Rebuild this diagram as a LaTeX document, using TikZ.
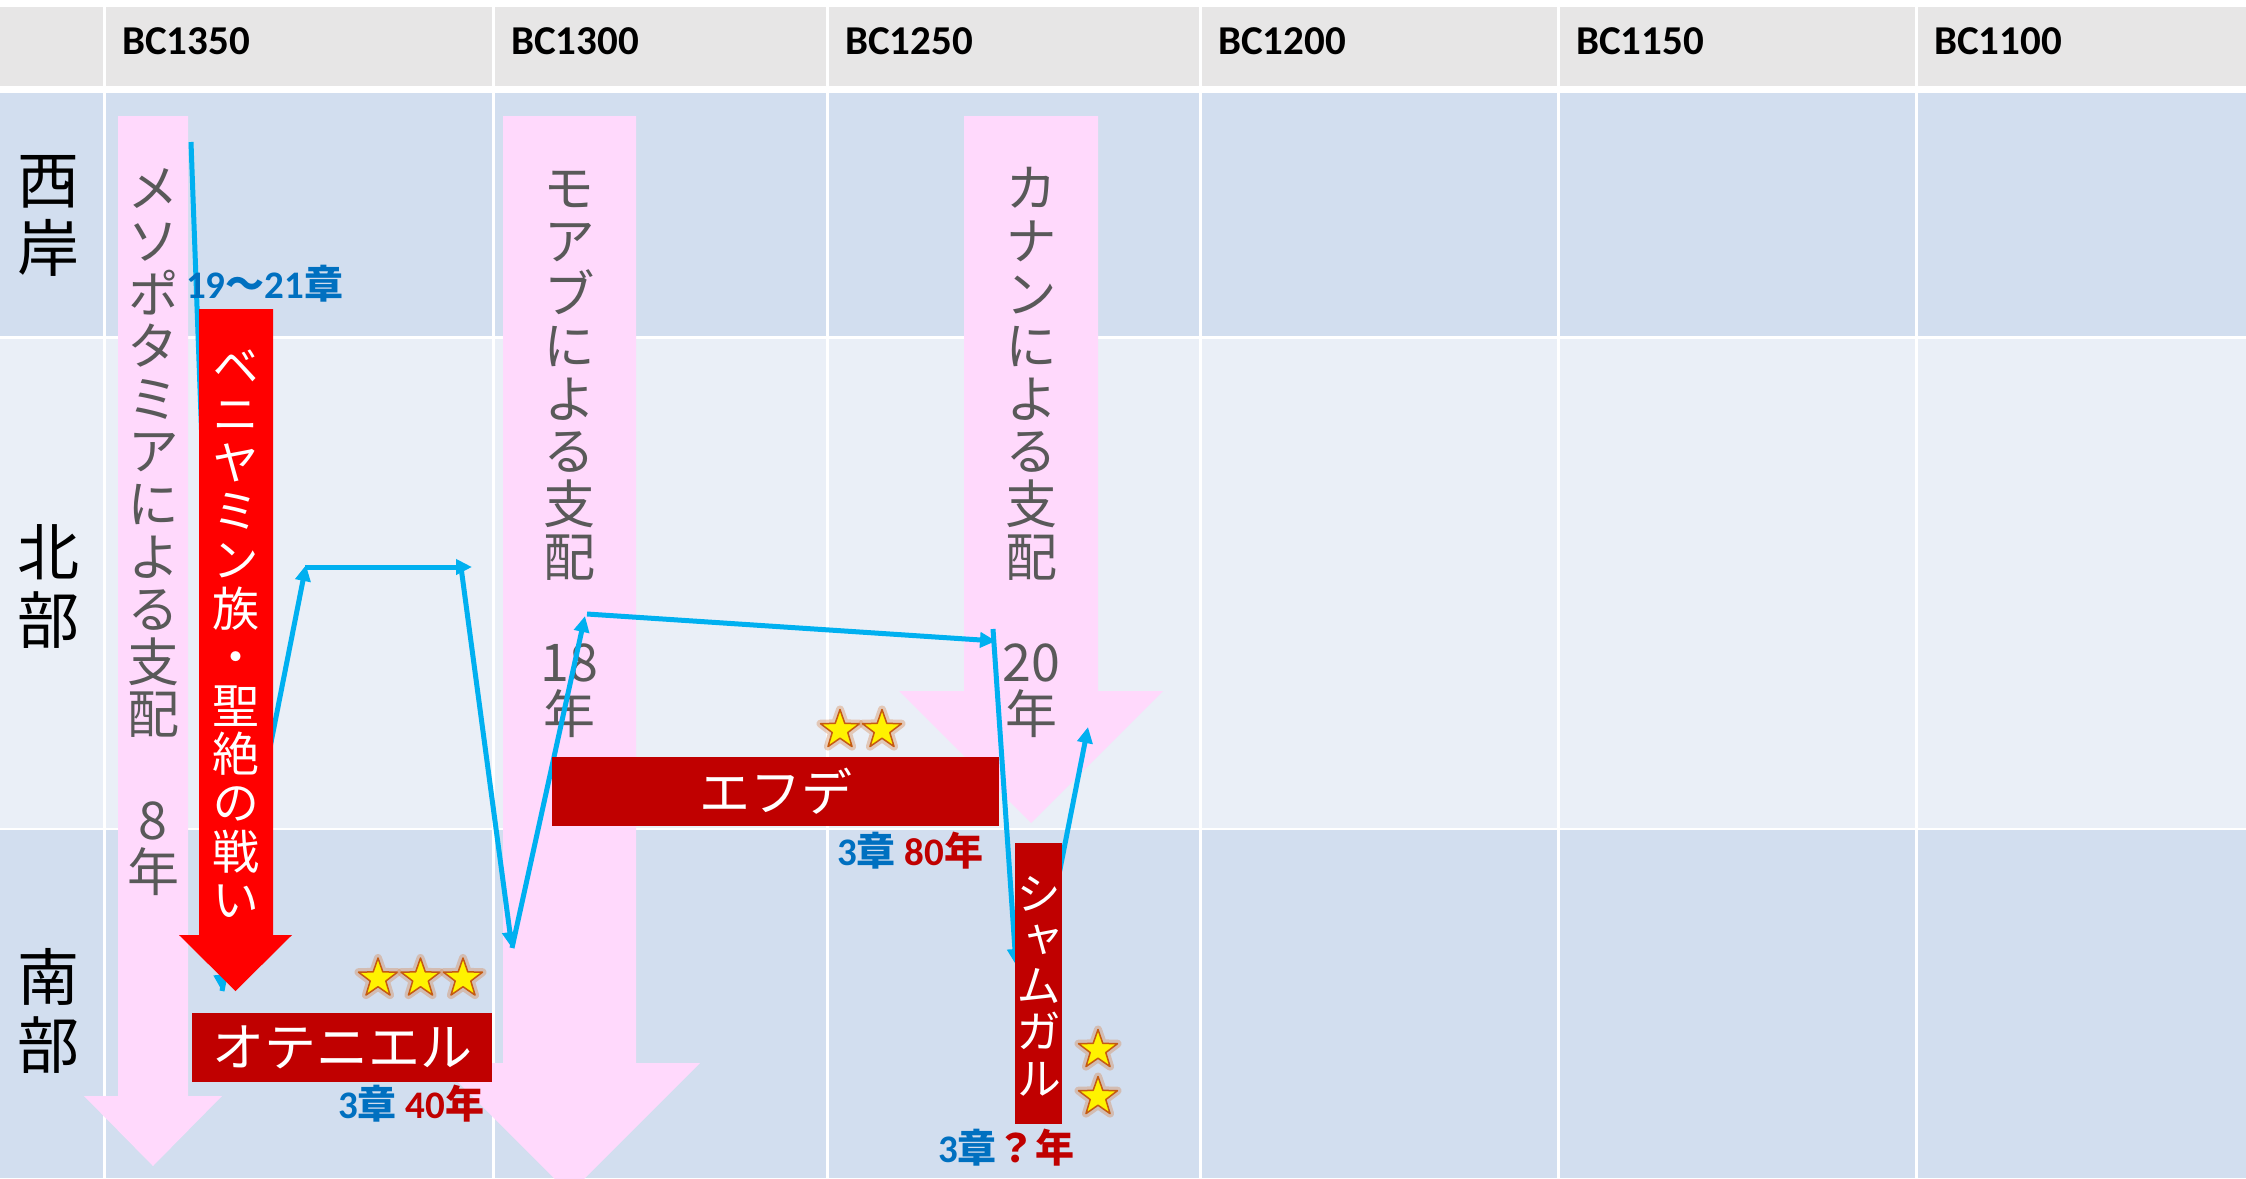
\documentclass[tikz,border=0pt]{standalone}
\usepackage{fontspec}
\setmainfont{Carlito}
\newfontfamily\jp{Noto Sans CJK JP}
\newfontfamily\jpv[RawFeature=+vert]{Noto Sans CJK JP}
\usetikzlibrary{arrows.meta,shapes.geometric}
\definecolor{hdr}{HTML}{E7E6E6}
\definecolor{rowdark}{HTML}{D2DEEF}
\definecolor{rowlight}{HTML}{EAEFF7}
\definecolor{pinkarrow}{RGB}{255,217,252}
\definecolor{txtgray}{HTML}{595959}
\definecolor{lineblue}{HTML}{00B0F0}
\definecolor{labblue}{HTML}{0070C0}
\definecolor{darkred}{HTML}{C00000}
\definecolor{glowcol}{RGB}{197,90,17}
\begin{document}
\begin{tikzpicture}[x=1pt,y=-1pt,
  hdrlab/.style={anchor=base west,inner sep=0,font=\bfseries\fontsize{41}{43}\selectfont},
  rowlab/.style={align=center,inner sep=0,font=\jp\fontsize{62}{68}\selectfont},
  graychar/.style={anchor=base,inner sep=0,text=txtgray,font=\jpv\fontsize{52}{52}\selectfont},
  whitechar/.style={anchor=base,inner sep=0,text=white,font=\jpv\fontsize{47}{47}\selectfont},
  shamchar/.style={anchor=base,inner sep=0,text=white,font=\jpv\fontsize{45}{45}\selectfont},
  blueconn/.style={draw=lineblue,line width=5pt,-{Triangle[length=16pt,width=15pt]}},
  redbox/.style={fill=darkred,inner sep=0,text=white},
  starmark/.style={star,star points=5,star point ratio=2.5,minimum size=41pt,inner sep=0,
     fill=yellow,draw=glowcol,line width=1.5pt,line join=round,
     preaction={draw=glowcol!70,line width=8pt,opacity=0.4,line join=round}},
  chlab/.style={anchor=base west,inner sep=0,font=\bfseries\fontsize{39}{41}\selectfont}]
\useasboundingbox (0,0) rectangle (2246,1178);
% table
\fill[white] (0,0) rectangle (2246,1178);
\fill[hdr] (0,7) rectangle (2246,86);
\fill[rowdark] (0,93) rectangle (2246,335.5);
\fill[rowlight] (0,338.5) rectangle (2246,827.5);
\fill[rowdark] (0,830) rectangle (2246,1178);
\foreach \cx in {104,493,827,1200,1558,1916}
  \fill[white] (\cx-1.5,7) rectangle (\cx+1.5,1178);
% header labels
\foreach \lab/\lx [count=\i] in {BC1350/104,BC1300/493,BC1250/827,BC1200/1200,BC1150/1558,BC1100/1916}
  \node[hdrlab] (hdr\i) at (\lx+18,54) {\lab};
% row labels
\node[rowlab] (west) at (48,215.5) {西\\岸};
\node[rowlab] (north) at (48,586.5) {北\\部};
\node[rowlab] (south) at (48,1010.75) {南\\部};
% pink arrows
\fill[pinkarrow] (118,116) -- (188,116) -- (188,1096) -- (222,1096) -- (153,1166) -- (84,1096) -- (118,1096) -- cycle;
\fill[pinkarrow] (503,116) -- (636,116) -- (636,1063) -- (700,1063) -- (569.5,1193.5) -- (439,1063) -- (503,1063) -- cycle;
\fill[pinkarrow] (964,116) -- (1098,116) -- (1098,691) -- (1163,691) -- (1031,823) -- (899,691) -- (964,691) -- cycle;
% gray vertical texts
\foreach \ch/\k in {メ/0,ソ/1,ポ/2,タ/3,ミ/4,ア/5,に/6,よ/7,る/8,支/9,配/10,8/12,年/13}
  \node[graychar] (meso\k) at (153,{207.8+\k*52.6}) {\ch};
\foreach \ch/\k in {モ/0,ア/1,ブ/2,に/3,よ/4,る/5,支/6,配/7,18/9,年/10}
  \node[graychar] (moab\k) at (569.5,{207.8+\k*52.6}) {\ch};
\foreach \ch/\k in {カ/0,ナ/1,ン/2,に/3,よ/4,る/5,支/6,配/7,20/9,年/10}
  \node[graychar] (canaan\k) at (1031,{207.8+\k*52.6}) {\ch};
% blue path
\coordinate (b0) at (191,142);
\coordinate (b1) at (222,991);
\coordinate (b2) at (306,565);
\coordinate (b2s) at (305,567);
\coordinate (b3) at (472,567);
\coordinate (b3s) at (461,567);
\coordinate (b4) at (512,948);
\coordinate (b5) at (585,616);
\coordinate (b5s) at (587,614);
\coordinate (b6) at (996,641);
\coordinate (b6s) at (993,629);
\coordinate (b7) at (1016,965);
\coordinate (b7s) at (1050,920);
\coordinate (b8) at (1088,727);
\draw[blueconn] (b0) -- (b1);
\draw[blueconn] (b1) -- (b2);
\draw[blueconn] (b2s) -- (b3);
\draw[blueconn] (b3s) -- (b4);
\draw[blueconn] (b4) -- (b5);
\draw[blueconn] (b5s) -- (b6);
\draw[blueconn] (b6s) -- (b7);
\draw[blueconn] (b7s) -- (b8);
% red arrow
\fill[red] (199,309) -- (273,309) -- (273,935) -- (292,935) -- (235.5,991) -- (179,935) -- (199,935) -- cycle;
\foreach \ch/\k in {ベ/0,ニ/1,ヤ/2,ミ/3,ン/4,族/5,・/6,聖/7,絶/8,の/9,戦/10,い/11}
  \node[whitechar] (benj\k) at (235.5,{383+\k*48.6}) {\ch};
% dark red boxes
\node[redbox,minimum width=300pt,minimum height=69pt,font=\jp\fontsize{52}{52}\selectfont] (oteniel) at (342,1047.5) {オテニエル};
\node[redbox,minimum width=447pt,minimum height=69pt,font=\jp\fontsize{51}{51}\selectfont] (efude) at (775.5,791.5) {エフデ};
\node[redbox,minimum width=47pt,minimum height=281pt] (shamgar) at (1038.5,983.5) {};
\foreach \ch/\k in {シ/0,ャ/1,ム/2,ガ/3,ル/4}
  \node[shamchar] (sham\k) at (1038.5,{910+\k*46.3}) {\ch};
% stars
\node[starmark] (s1) at (378,978.5) {};
\node[starmark] (s2) at (420.5,978.5) {};
\node[starmark] (s3) at (463,978.5) {};
\node[starmark] (s4) at (840,730) {};
\node[starmark] (s5) at (882,730) {};
\node[starmark] (s6) at (1098,1050) {};
\node[starmark] (s7) at (1098,1097) {};
% chapter / year labels
\node[chlab,text=labblue] (lab1921) at (186,298) {19{\jp ～}21{\jp 章}};
\node[chlab] (lab40) at (338,1118) {\textcolor{labblue}{3{\jp 章}} \textcolor{darkred}{40{\jp 年}}};
\node[chlab] (lab80) at (837,865) {\textcolor{labblue}{3{\jp 章}} \textcolor{darkred}{80{\jp 年}}};
\node[chlab] (labq) at (938,1162) {\textcolor{labblue}{3{\jp 章}}\textcolor{darkred}{{\jp ？年}}};
\end{tikzpicture}
\end{document}
